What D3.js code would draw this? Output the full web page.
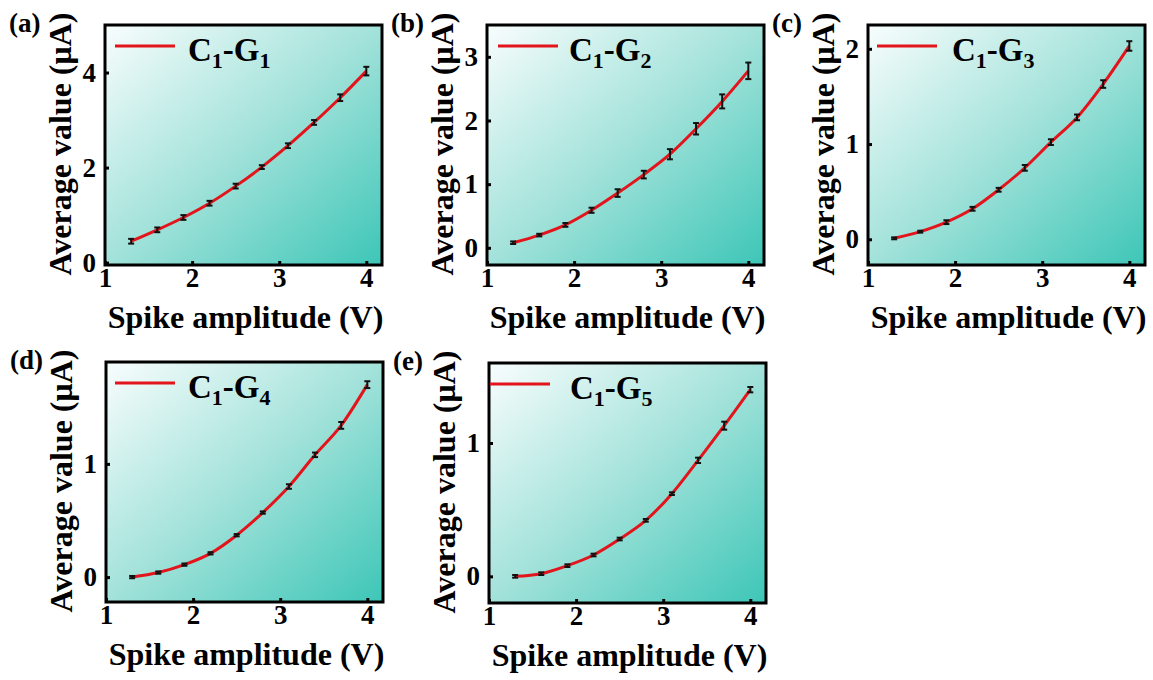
<!DOCTYPE html>
<html>
<head>
<meta charset="utf-8">
<script src="https://cdn.jsdelivr.net/npm/d3@7"></script>
<style>
  body { margin: 0; background: #fff; }
  text { font-family: "Liberation Serif", "Times New Roman", serif; font-weight: bold; }
</style>
</head>
<body>
<div id="chart"></div>
<script>
// spike amplitudes (V)
const amplitudes = [1.3, 1.6, 1.9, 2.2, 2.5, 2.8, 3.1, 3.4, 3.7, 4.0];

// average current (uA) per gate, with error bars
const meanG1 = [0.45, 0.69, 0.95, 1.25, 1.61, 2.01, 2.46, 2.95, 3.47, 4.03];
const errG1  = [0.05, 0.05, 0.05, 0.05, 0.05, 0.04, 0.05, 0.05, 0.07, 0.09];
const meanG2 = [0.08, 0.20, 0.36, 0.59, 0.86, 1.15, 1.47, 1.87, 2.30, 2.78];
const errG2  = [0.02, 0.02, 0.03, 0.04, 0.06, 0.06, 0.08, 0.09, 0.11, 0.13];
const meanG3 = [0.01, 0.08, 0.18, 0.32, 0.52, 0.75, 1.02, 1.28, 1.63, 2.03];
const errG3  = [0.01, 0.01, 0.02, 0.02, 0.02, 0.03, 0.03, 0.03, 0.04, 0.05];
const meanG4 = [0.00, 0.04, 0.11, 0.21, 0.37, 0.57, 0.80, 1.08, 1.34, 1.70];
const errG4  = [0.01, 0.01, 0.01, 0.01, 0.01, 0.01, 0.02, 0.02, 0.03, 0.03];
const meanG5 = [0.00, 0.02, 0.08, 0.16, 0.28, 0.42, 0.62, 0.87, 1.13, 1.40];
const errG5  = [0.01, 0.01, 0.01, 0.01, 0.01, 0.01, 0.01, 0.02, 0.03, 0.02];

const panelLabels = ["(a)", "(b)", "(c)", "(d)", "(e)"];
const gateIds = ["1", "2", "3", "4", "5"];
const yTickSets = [[0, 2, 4], [0, 1, 2, 3], [0, 1, 2], [0, 1], [0, 1]];
const yDomains = [[-0.05, 5.0], [-0.27, 3.5], [-0.27, 2.25], [-0.22, 1.9], [-0.2, 1.6]];
const xTicks = [1, 2, 3, 4];

const means = [meanG1, meanG2, meanG3, meanG4, meanG5];
const errs = [errG1, errG2, errG3, errG4, errG5];

// layout of each plot box (pixels)
const boxes = [
  { left: 105, top: 25, legX: 10, legTxt: 83 },
  { left: 487, top: 25, legX: 11, legTxt: 82 },
  { left: 868, top: 25, legX: 9, legTxt: 84 },
  { left: 106, top: 362, legX: 9, legTxt: 82 },
  { left: 489, top: 363, legX: 1, legTxt: 81 }
];
const pw = 277, ph = 240;

const svg = d3.select("#chart").append("svg")
  .attr("width", 1153)
  .attr("height", 680);

const defs = svg.append("defs");
const grad = defs.append("linearGradient")
  .attr("id", "bg")
  .attr("x1", 0).attr("y1", 0).attr("x2", 1).attr("y2", 1);
grad.append("stop").attr("offset", "0%").attr("stop-color", "#f8fdfd");
grad.append("stop").attr("offset", "50%").attr("stop-color", "#a2e2da");
grad.append("stop").attr("offset", "100%").attr("stop-color", "#3dc6b7");

boxes.forEach((b, i) => {
  const g = svg.append("g").attr("transform", `translate(${b.left},${b.top})`);

  const x = d3.scaleLinear().domain([1, 4.18]).range([0, pw]);
  const y = d3.scaleLinear().domain(yDomains[i]).range([ph, 0]);

  g.append("rect")
    .attr("width", pw).attr("height", ph)
    .attr("fill", "url(#bg)");

  // inward ticks
  const xAxis = g.append("g")
    .attr("transform", `translate(0,${ph})`)
    .call(d3.axisBottom(x).tickValues(xTicks).tickFormat(d3.format("d"))
      .tickSizeInner(-4).tickSizeOuter(0).tickPadding(3));
  const yAxis = g.append("g")
    .call(d3.axisLeft(y).tickValues(yTickSets[i]).tickFormat(d3.format("d"))
      .tickSizeInner(-4).tickSizeOuter(0).tickPadding(9));

  [xAxis, yAxis].forEach(ax => {
    ax.attr("font-size", null).attr("font-family", null);
    ax.select(".domain").remove();
    ax.selectAll("line").attr("stroke", "#000").attr("stroke-width", 3);
    ax.selectAll("text")
      .attr("fill", "#000")
      .style("font-size", "27px");
  });
  xAxis.selectAll("text").attr("dy", "0.72em");

  const pts = amplitudes.map((a, k) => ({ a, m: means[i][k], e: errs[i][k] }));

  const line = d3.line()
    .x(d => x(d.a))
    .y(d => y(d.m))
    .curve(d3.curveMonotoneX);

  g.append("path")
    .datum(pts)
    .attr("d", line)
    .attr("fill", "none")
    .attr("stroke", "#e3141b")
    .attr("stroke-width", 3);

  const eb = g.selectAll(".eb").data(pts).enter().append("g").attr("class", "eb");
  eb.append("line")
    .attr("x1", d => x(d.a)).attr("x2", d => x(d.a))
    .attr("y1", d => y(d.m - d.e)).attr("y2", d => y(d.m + d.e))
    .attr("stroke", "#111").attr("stroke-width", 2);
  eb.append("line")
    .attr("x1", d => x(d.a) - 3).attr("x2", d => x(d.a) + 3)
    .attr("y1", d => y(d.m - d.e)).attr("y2", d => y(d.m - d.e))
    .attr("stroke", "#111").attr("stroke-width", 2);
  eb.append("line")
    .attr("x1", d => x(d.a) - 3).attr("x2", d => x(d.a) + 3)
    .attr("y1", d => y(d.m + d.e)).attr("y2", d => y(d.m + d.e))
    .attr("stroke", "#111").attr("stroke-width", 2);

  // frame
  g.append("rect")
    .attr("width", pw).attr("height", ph)
    .attr("fill", "none")
    .attr("stroke", "#000")
    .attr("stroke-width", 3);

  // legend
  g.append("line")
    .attr("x1", b.legX).attr("x2", b.legX + 60)
    .attr("y1", 21).attr("y2", 21)
    .attr("stroke", "#e3141b").attr("stroke-width", 3);
  const lt = g.append("text")
    .attr("x", b.legTxt).attr("y", 36)
    .style("font-size", "33px");
  lt.append("tspan").text("C");
  lt.append("tspan").attr("dy", 7).style("font-size", "22px").text("1");
  lt.append("tspan").attr("dy", -7).text("-G");
  lt.append("tspan").attr("dy", 7).style("font-size", "22px").text(gateIds[i]);

  // axis titles
  g.append("text")
    .attr("x", pw / 2 + 2).attr("y", ph + 63)
    .attr("text-anchor", "middle")
    .style("font-size", "32px")
    .text("Spike amplitude (V)");
  g.append("text")
    .attr("transform", `translate(-34,${ph / 2 - 1}) rotate(-90)`)
    .attr("text-anchor", "middle")
    .style("font-size", "32px")
    .text("Average value (μA)");

  // panel label
  svg.append("text")
    .attr("x", b.left - 96).attr("y", b.top + 7)
    .style("font-size", "27px")
    .text(panelLabels[i]);
});
</script>
</body>
</html>
